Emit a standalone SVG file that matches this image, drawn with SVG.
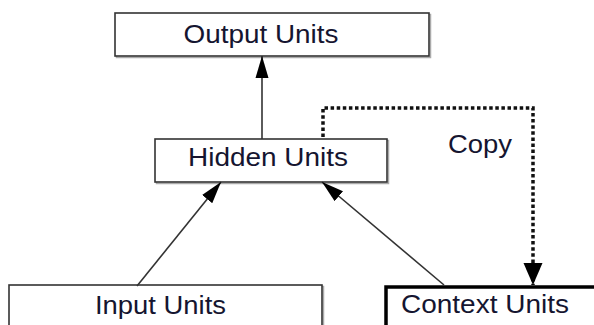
<svg xmlns="http://www.w3.org/2000/svg" width="594" height="325" viewBox="0 0 594 325">
<defs>
<style>
.box{fill:#fff;stroke:#333;stroke-width:1.6}
.shadow{fill:none;stroke:#aaa;stroke-width:1.5}
.ctx{fill:#fff;stroke:#000;stroke-width:3.5}
.lbl{font-family:"Liberation Sans",Arial,sans-serif;font-size:26px;fill:#151530;text-anchor:middle}
.edge{stroke:#333;stroke-width:1.6;fill:none}
.dot{stroke:#111;stroke-width:3.5;fill:none;stroke-dasharray:3.5 2.6}
</style>
<marker id="ah" markerUnits="userSpaceOnUse" markerWidth="24" markerHeight="16" refX="22" refY="7" orient="auto">
<path d="M0,0.5 L22,7 L0,13.5 Z" fill="#000"/>
</marker>
<marker id="ah2" markerUnits="userSpaceOnUse" markerWidth="24" markerHeight="20" refX="22" refY="10" orient="auto">
<path d="M0,0.5 L22,10 L0,19.5 Z" fill="#000"/>
</marker>
</defs>
<g id="output">
<rect class="shadow" x="116.5" y="14.5" width="314" height="43"/>
<rect class="box" x="115" y="13" width="314" height="43"/>
<text class="lbl" x="261" y="43" textLength="155" lengthAdjust="spacingAndGlyphs">Output Units</text>
</g>
<g id="hidden">
<rect class="shadow" x="156.5" y="140.5" width="232" height="43"/>
<rect class="box" x="155" y="139" width="232" height="43"/>
<text class="lbl" x="268" y="166" textLength="160" lengthAdjust="spacingAndGlyphs">Hidden Units</text>
</g>
<g id="input">
<rect class="shadow" x="10.5" y="286.5" width="313" height="50"/>
<rect class="box" x="9" y="285" width="313" height="50"/>
<text class="lbl" x="160.5" y="314" textLength="131" lengthAdjust="spacingAndGlyphs">Input Units</text>
</g>
<g id="context">
<path class="ctx" d="M600,287 L386,287 L386,340 L600,340"/>
<text class="lbl" x="485" y="313" textLength="168" lengthAdjust="spacingAndGlyphs">Context Units</text>
</g>
<g id="copy-label">
<text class="lbl" x="480" y="153" textLength="64" lengthAdjust="spacingAndGlyphs">Copy</text>
</g>
<g id="connectors">
<line class="edge" x1="262" y1="139" x2="262" y2="56" marker-end="url(#ah)"/>
<line class="edge" x1="137" y1="286" x2="221" y2="182" marker-end="url(#ah)"/>
<line class="edge" x1="444" y1="285" x2="322" y2="182" marker-end="url(#ah)"/>
<polyline class="dot" points="323,137 323,108 533,108 533,285" marker-end="url(#ah2)"/>
</g>
</svg>
